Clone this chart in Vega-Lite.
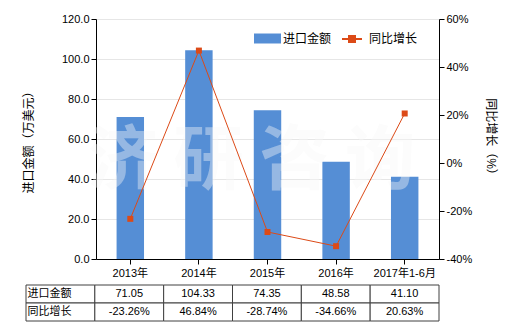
{
  "$schema": "https://vega.github.io/schema/vega-lite/v6.json",
  "background": "white",
  "padding": {"left": 22, "top": 13, "right": 5, "bottom": 5},
  "config": {
    "view": {"stroke": null},
    "font": "Liberation Sans, Noto Sans CJK SC, sans-serif",
    "axis": {
      "labelFont": "Liberation Sans, Noto Sans CJK SC, sans-serif",
      "titleFont": "Liberation Sans, Noto Sans CJK SC, sans-serif",
      "titleFontWeight": "normal",
      "titleFontSize": 12,
      "labelFontSize": 11,
      "labelColor": "#000",
      "titleColor": "#000",
      "domainColor": "#000",
      "tickColor": "#000",
      "tickSize": 5,
      "labelOverlap": false
    },
    "legend": {
      "labelFont": "Liberation Sans, Noto Sans CJK SC, sans-serif",
      "labelFontSize": 12,
      "labelColor": "#000"
    }
  },
  "datasets": {
    "main": [
      {"period": "2013年", "amount": 71.05, "growth": -23.26},
      {"period": "2014年", "amount": 104.33, "growth": 46.84},
      {"period": "2015年", "amount": 74.35, "growth": -28.74},
      {"period": "2016年", "amount": 48.58, "growth": -34.66},
      {"period": "2017年1-6月", "amount": 41.10, "growth": 20.63}
    ],
    "table": [
      {"row": "进口金额", "col": "指标", "text": "进口金额"},
      {"row": "进口金额", "col": "2013年", "text": "71.05"},
      {"row": "进口金额", "col": "2014年", "text": "104.33"},
      {"row": "进口金额", "col": "2015年", "text": "74.35"},
      {"row": "进口金额", "col": "2016年", "text": "48.58"},
      {"row": "进口金额", "col": "2017年1-6月", "text": "41.10"},
      {"row": "同比增长", "col": "指标", "text": "同比增长"},
      {"row": "同比增长", "col": "2013年", "text": "-23.26%"},
      {"row": "同比增长", "col": "2014年", "text": "46.84%"},
      {"row": "同比增长", "col": "2015年", "text": "-28.74%"},
      {"row": "同比增长", "col": "2016年", "text": "-34.66%"},
      {"row": "同比增长", "col": "2017年1-6月", "text": "20.63%"}
    ]
  },
  "spacing": 6,
  "vconcat": [
    {
      "width": 343,
      "height": 240,
      "data": {"name": "main"},
      "layer": [
        {
          "layer": [
            {
              "mark": {"type": "bar", "width": {"band": 0.4}, "color": "#558ed5"},
              "encoding": {
                "x": {
                  "field": "period", "type": "nominal", "sort": null,
                  "scale": {"domain": ["2013年", "2014年", "2015年", "2016年", "2017年1-6月"], "paddingInner": 0, "paddingOuter": 0},
                  "axis": {"title": null, "labelAngle": 0, "labelPadding": 3, "grid": false}
                },
                "y": {
                  "field": "amount", "type": "quantitative",
                  "scale": {"domain": [0, 120], "nice": false},
                  "axis": {"orient": "left", "title": "进口金额（万美元）", "values": [0, 20, 40, 60, 80, 100, 120], "tickCount": 7, "labelOverlap": false, "format": ".1f", "grid": true, "gridColor": "#e6e6e6", "titlePadding": 26}
                },
                "fill": {
                  "datum": "进口金额", "type": "nominal",
                  "scale": {"range": ["#558ed5"]},
                  "legend": {"orient": "none", "legendX": 158, "legendY": 6, "title": null, "symbolType": "M-1,-0.37H1V0.37H-1Z", "symbolSize": 729, "symbolStrokeWidth": 0, "labelOffset": 2}
                }
              }
            },
            {
              "data": {"values": [{"wm": "济 研 咨 询"}]},
              "mark": {"type": "text", "fontSize": 70, "fontWeight": "bold", "font": "Noto Sans CJK SC", "color": "#f8f8f8", "opacity": 0.4, "dx": -16},
              "encoding": {
                "x": {"datum": "2015年", "type": "nominal"},
                "y": {
                  "datum": 48, "type": "quantitative",
                  "axis": {"orient": "left", "title": "进口金额（万美元）", "values": [0, 20, 40, 60, 80, 100, 120], "tickCount": 7, "labelOverlap": false, "format": ".1f", "grid": true, "gridColor": "#e6e6e6", "titlePadding": 26}
                },
                "text": {"field": "wm"}
              }
            }
          ]
        },
        {
          "layer": [
            {
              "mark": {"type": "line", "strokeWidth": 1, "color": "#dc4a17"},
              "encoding": {
                "x": {"field": "period", "type": "nominal", "sort": null},
                "y": {
                  "field": "growth", "type": "quantitative",
                  "scale": {"domain": [-40, 60], "nice": false},
                  "axis": {"orient": "right", "title": "同比增长（%）", "values": [-40, -20, 0, 20, 40, 60], "labelExpr": "datum.value + '%'", "grid": false, "titlePadding": 12}
                },
                "stroke": {
                  "datum": "同比增长", "type": "nominal",
                  "scale": {"range": ["#dc4a17"]},
                  "legend": {"orient": "none", "legendX": 245, "legendY": 9, "title": null, "symbolType": "M-1,0H1M-0.3,-0.3H0.3V0.3H-0.3Z", "symbolSize": 400, "symbolStrokeWidth": 2, "symbolFillColor": "#dc4a17", "labelOffset": 6}
                }
              }
            },
            {
              "mark": {"type": "square", "size": 36, "color": "#dc4a17", "opacity": 1, "filled": true},
              "encoding": {
                "x": {"field": "period", "type": "nominal", "sort": null},
                "y": {"field": "growth", "type": "quantitative"}
              }
            }
          ]
        }
      ],
      "resolve": {"scale": {"y": "independent"}}
    },
    {
      "width": 343,
      "height": 36,
      "data": {"name": "table"},
      "encoding": {
        "x": {"field": "col", "type": "nominal", "sort": null, "scale": {"domain": ["指标", "2013年", "2014年", "2015年", "2016年", "2017年1-6月"], "range": [-70, 343], "paddingInner": 0, "paddingOuter": 0}, "axis": null},
        "y": {"field": "row", "type": "nominal", "sort": null, "scale": {"domain": ["进口金额", "同比增长"], "paddingInner": 0, "paddingOuter": 0}, "axis": null}
      },
      "layer": [
        {"mark": {"type": "rect", "fill": "white", "stroke": "#404040", "strokeWidth": 1}},
        {
          "transform": [{"filter": "datum.col !== '指标'"}],
          "mark": {"type": "text", "fontSize": 11, "color": "#000"},
          "encoding": {"text": {"field": "text"}}
        },
        {
          "transform": [{"filter": "datum.col === '指标'"}],
          "mark": {"type": "text", "fontSize": 11, "align": "left", "dx": -33, "color": "#000"},
          "encoding": {"text": {"field": "text"}}
        }
      ]
    }
  ]
}
